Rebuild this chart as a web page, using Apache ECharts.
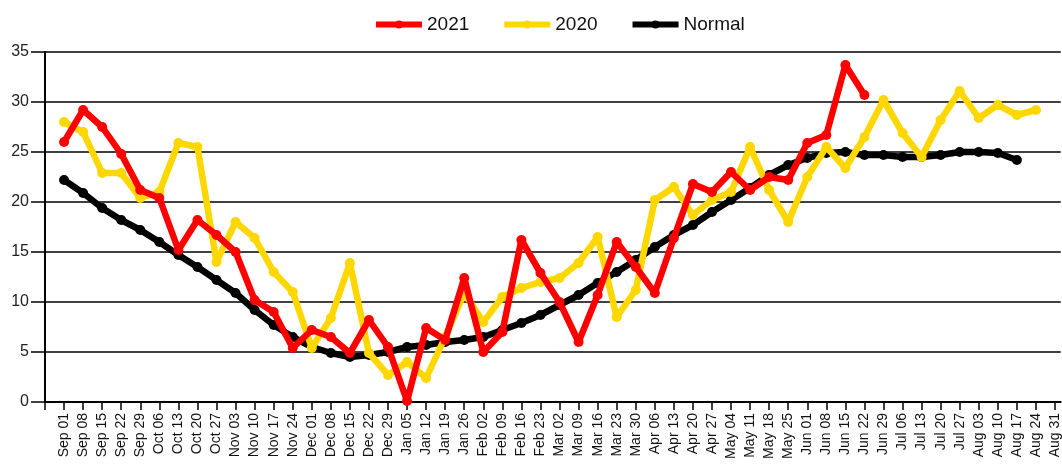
<!DOCTYPE html>
<html>
<head>
<meta charset="utf-8">
<script src="https://cdn.jsdelivr.net/npm/echarts@6/dist/echarts.min.js"></script>
<style>
html,body{margin:0;padding:0;background:#fff;}
#chart{width:1062px;height:465px;}
</style>
</head>
<body>
<div id="chart"></div>
<script>
const categories = ['Sep 01','Sep 08','Sep 15','Sep 22','Sep 29','Oct 06','Oct 13','Oct 20','Oct 27',
  'Nov 03','Nov 10','Nov 17','Nov 24','Dec 01','Dec 08','Dec 15','Dec 22','Dec 29',
  'Jan 05','Jan 12','Jan 19','Jan 26','Feb 02','Feb 09','Feb 16','Feb 23',
  'Mar 02','Mar 09','Mar 16','Mar 23','Mar 30','Apr 06','Apr 13','Apr 20','Apr 27',
  'May 04','May 11','May 18','May 25','Jun 01','Jun 08','Jun 15','Jun 22','Jun 29',
  'Jul 06','Jul 13','Jul 20','Jul 27','Aug 03','Aug 10','Aug 17','Aug 24','Aug 31'];

const values2021 = [26.0, 29.2, 27.5, 24.8, 21.2, 20.4, 15.2, 18.2, 16.7, 15.0, 10.2, 9.0, 5.4,
  7.2, 6.5, 4.9, 8.2, 5.5, 0.1, 7.4, 6.2, 12.4, 5.0, 7.0, 16.2, 12.9, 10.0, 6.0, 10.7,
  16.0, 13.5, 10.9, 16.4, 21.8, 21.0, 23.0, 21.2, 22.5, 22.2, 25.9, 26.7, 33.7, 30.7];

const values2020 = [28.0, 27.0, 22.9, 22.9, 20.4, 21.0, 25.9, 25.5, 14.0, 18.0, 16.4, 13.0, 11.0,
  5.4, 8.4, 13.9, 4.9, 2.7, 4.0, 2.4, 6.5, 10.9, 8.0, 10.5, 11.4, 12.0, 12.4, 13.9, 16.5,
  8.5, 11.2, 20.2, 21.5, 18.7, 20.2, 21.0, 25.5, 21.2, 18.0, 22.5, 25.5, 23.4, 26.5,
  30.2, 26.9, 24.5, 28.2, 31.1, 28.4, 29.7, 28.7, 29.2];

const valuesNormal = [22.2, 20.9, 19.4, 18.2, 17.2, 16.0, 14.7, 13.5, 12.2, 10.9, 9.2, 7.7, 6.5,
  5.5, 4.9, 4.5, 4.7, 5.0, 5.5, 5.7, 6.0, 6.2, 6.5, 7.2, 7.9, 8.7, 9.7, 10.7, 11.9,
  13.0, 14.2, 15.5, 16.7, 17.7, 19.0, 20.2, 21.4, 22.7, 23.7, 24.4, 24.9, 25.0, 24.7,
  24.7, 24.5, 24.5, 24.7, 25.0, 25.0, 24.9, 24.2];

const yMin = 0, yMax = 35, yStep = 5;

const toPoints = arr => arr.map((v, i) => [i + 1, v]);
const font = '"Liberation Sans", Arial, sans-serif';

const chart = echarts.init(document.getElementById('chart'), null, {renderer: 'canvas'});
const tickVals = categories.map((c, i) => i).concat([categories.length]);

function lineSeries(name, color, data, z) {
  return {
    name: name,
    type: 'line',
    data: toPoints(data),
    symbol: 'circle',
    symbolSize: 10,
    z: z,
    lineStyle: {color: color, width: 6.5},
    itemStyle: {color: color},
    emphasis: {disabled: true},
    animation: false
  };
}

chart.setOption({
  animation: false,
  backgroundColor: '#ffffff',
  legend: {
    data: ['2021', '2020', 'Normal'],
    left: 368,
    top: 10,
    itemWidth: 46,
    itemHeight: 10,
    itemGap: 32,
    lineStyle: {width: 6},
    textStyle: {fontFamily: font, fontSize: 19, color: '#111'}
  },
  grid: {left: 45, right: 0, top: 52, bottom: 63, containLabel: false},
  xAxis: {
    type: 'value',
    min: 0,
    max: categories.length + 0.3,
    interval: 1,
    splitLine: {show: false},
    axisLine: {show: true, onZero: false, lineStyle: {color: '#000', width: 2}},
    axisTick: {show: true, length: 8, customValues: tickVals, lineStyle: {color: '#000', width: 1.5}},
    axisLabel: {
      rotate: 90,
      margin: 11,
      fontFamily: font,
      fontSize: 14,
      color: '#111',
      customValues: categories.map((c, i) => i + 1),
      formatter: v => categories[Math.round(v) - 1] || ''
    }
  },
  yAxis: {
    type: 'value',
    min: yMin,
    max: yMax,
    interval: yStep,
    axisLine: {show: true, lineStyle: {color: '#000', width: 2}},
    axisTick: {show: true, length: 14, lineStyle: {color: '#000', width: 1.5}},
    splitLine: {show: true, lineStyle: {color: '#000', width: 1.5}},
    axisLabel: {fontFamily: font, fontSize: 16, color: '#222', margin: 16}
  },
  series: [
    lineSeries('Normal', '#000000', valuesNormal, 2),
    lineSeries('2020', '#FFD700', values2020, 3),
    lineSeries('2021', '#FF0000', values2021, 4)
  ]
});
</script>
</body>
</html>
